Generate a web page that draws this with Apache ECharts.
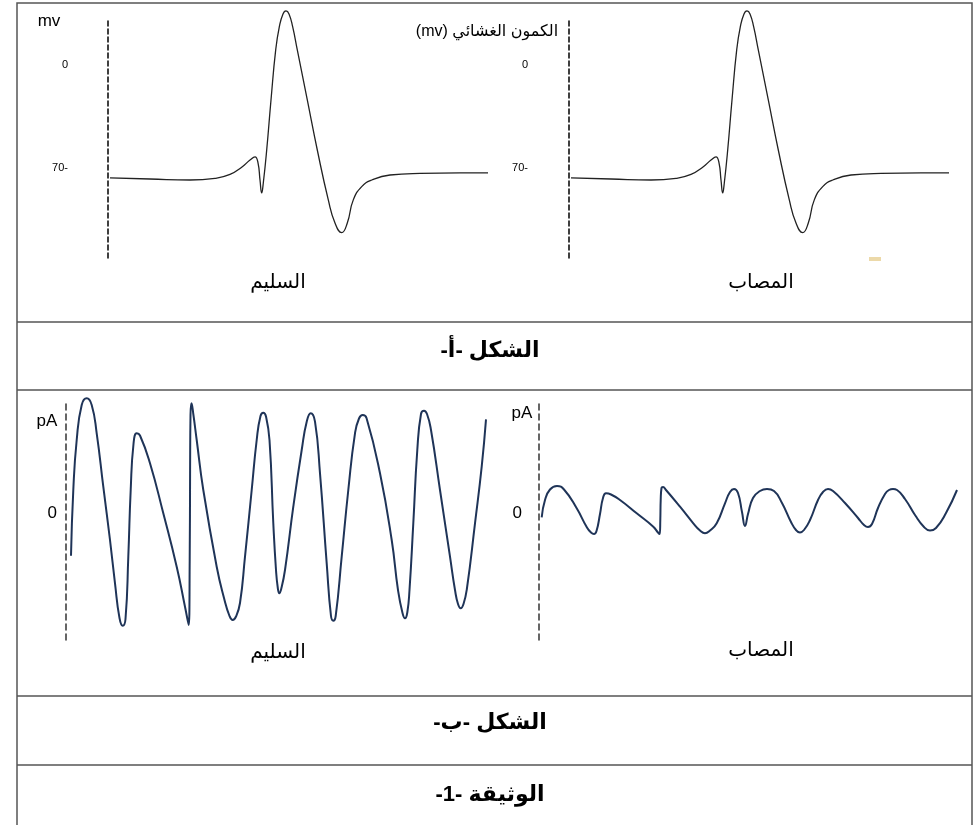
<!DOCTYPE html>
<html>
<head>
<meta charset="utf-8">
<script src="https://cdn.jsdelivr.net/npm/echarts@6/dist/echarts.min.js"></script>
<style>
html,body{margin:0;padding:0;background:#fff;}
#chart{width:980px;height:825px;direction:rtl;}
</style>
</head>
<body>
<div id="chart"></div>
<script>
// ---- Figure A: membrane potential (mV) ----
var apTime = [0.2,4.2,8.2,10.7,12.2,13.4,14.2,14.7,15.0,15.2,15.37,15.53,15.87,16.3,16.77,17.13,17.5,17.8,18.1,18.47,18.93,19.93,20.93,22.03,22.7,23.37,23.93,24.53,25.37,26.37,28.2,31.2,35.2,38.0];
var apHealthyMv = [-76.8,-77.5,-78.2,-77.1,-74.4,-69.3,-64.6,-62.5,-66.6,-78.2,-87.0,-80.2,-57.8,-23.8,10.2,25.8,34.7,36.7,34.7,25.8,10.2,-23.8,-57.8,-91.7,-107.4,-114.0,-107.4,-91.7,-82.7,-78.2,-74.8,-73.7,-73.4,-73.4];
var apInjuredMv = [-76.8,-77.5,-78.2,-77.1,-74.4,-69.3,-64.6,-62.5,-66.6,-78.2,-87.0,-80.2,-57.8,-23.8,10.2,25.8,34.7,36.7,34.7,25.8,10.2,-23.8,-57.8,-91.7,-107.4,-114.0,-107.4,-91.7,-82.7,-78.2,-74.8,-73.7,-73.4,-73.4];
var mvTicks = [0, -70];

// ---- Figure B: current (pA) ----
var curHealthyT = [0.5,0.73,1.07,1.57,2.07,2.57,3.07,3.73,4.4,4.9,
  5.35,5.67,5.95,6.23,6.47,6.75,7.07,7.4,8.4,9.73,
  11.07,11.9,12.27,12.37,12.41,12.45,12.55,12.73,13.07,13.73,
  15.07,15.8,16.35,16.67,17.0,17.4,17.9,18.57,19.07,19.45,
  19.73,20.0,20.35,20.73,21.0,21.18,21.33,21.52,21.9,22.73,
  23.57,24.07,24.47,24.9,25.4,26.07,26.5,26.73,26.97,27.57,
  28.23,28.9,29.3,29.67,30.05,31.4,32.57,33.2,33.65,33.9,
  34.13,34.35,34.73,35.13,35.5,35.8,36.1,36.5,37.4,38.4,
  38.9,39.2,39.47,39.75,40.1,40.9,41.57,42.0];
var curHealthyPa = [-4.27,2.3,7.3,10.8,11.47,10.8,7.97,2.63,-2.7,-7.03,
  -10.5,-11.27,-10.6,-4.37,2.3,6.9,7.97,7.75,4.97,-0.03,
  -5.37,-9.37,-11.2,-4.7,4.3,9.8,10.97,9.9,7.3,2.3,
  -5.37,-8.5,-10.3,-10.7,-10.35,-9.0,-4.37,2.3,7.3,9.7,
  10.03,9.65,7.3,-1.03,-5.7,-7.5,-8.03,-7.6,-5.7,0.63,
  6.3,9.13,9.97,9.13,3.97,-5.03,-10.3,-10.77,-10.3,-4.37,
  2.3,7.97,9.45,9.8,9.5,3.97,-2.7,-7.7,-10.0,-10.53,
  -9.95,-7.7,-1.03,6.3,9.9,10.23,9.9,8.3,2.3,-4.37,
  -7.7,-9.1,-9.53,-9.1,-7.5,-1.03,4.63,9.37];
var curInjuredT = [0.27,0.6,1.1,1.8,2.5,3.77,4.77,5.2,5.5,5.75,
  6.1,6.4,6.7,7.2,8.1,9.77,11.43,11.9,12.07,12.13,
  12.17,12.25,12.4,12.7,14.1,15.43,16.1,16.6,17.1,17.77,
  18.6,19.1,19.5,19.9,20.3,20.6,20.9,21.4,22.1,22.8,
  23.5,24.3,25.2,25.7,26.1,26.5,27.1,27.9,28.4,28.9,
  29.4,30.6,31.9,32.5,32.9,33.3,33.9,34.6,35.0,35.4,
  35.8,36.6,37.6,38.5,39.1,39.7,40.7,41.8];
var curInjuredPa = [-0.43,1.3,2.35,2.7,2.35,0.47,-1.4,-1.95,-2.1,-1.8,
  -0.1,1.5,1.97,1.85,1.3,-0.03,-1.37,-1.95,-2.1,-0.7,
  1.3,2.5,2.6,2.3,0.63,-1.03,-1.75,-2.03,-1.75,-1.03,
  0.97,2.1,2.4,2.0,0.1,-1.3,-0.1,1.5,2.2,2.4,
  2.2,1.0,-0.9,-1.7,-1.95,-1.7,-0.7,1.3,2.1,2.4,
  2.2,1.0,-0.5,-1.2,-1.4,-1.1,0.5,1.9,2.3,2.4,
  2.3,1.4,-0.2,-1.4,-1.75,-1.5,0,2.3];
var paTicks = [0];

// ---- texts ----
var txtHealthy = 'السليم';
var txtInjured = 'المصاب';
var txtPotential = 'الكمون الغشائي (mv)';
var txtFigA = 'الشكل -أ-';
var txtFigB = 'الشكل -ب-';
var txtDoc = 'الوثيقة -1-';

function zip(a, b) { return a.map(function (v, i) { return [v, b[i]]; }); }

var FONT = 'Liberation Sans, Arial, DejaVu Sans, sans-serif';
var chart = echarts.init(document.getElementById('chart'), null, {renderer: 'canvas'});

function yAx(gi, min, max, ticks, margin, fs, dash, col) {
  return {
    gridIndex: gi, type: 'value', min: min, max: max,
    axisLine: {show: true, onZero: false, lineStyle: {color: col, width: 1.5, type: dash}},
    axisTick: {show: false},
    splitLine: {show: false},
    axisLabel: {customValues: ticks, margin: margin, fontSize: fs, color: '#000', fontFamily: FONT}
  };
}
function xAx(gi, max) {
  return {gridIndex: gi, type: 'value', min: 0, max: max, show: false};
}
function txt(t, x, y, size, bold) {
  return {type: 'text', x: x, y: y, silent: true,
    style: {text: t, fontSize: size, fontWeight: bold ? 'bold' : 'normal', fontFamily: FONT,
      fill: '#000', align: 'center', verticalAlign: 'middle'}};
}
function hline(y) {
  return {type: 'line', silent: true, shape: {x1: 17, y1: y, x2: 972, y2: y},
    style: {stroke: '#555', lineWidth: 1.5}};
}
function curve(i, t, v, color, width) {
  return {type: 'line', xAxisIndex: i, yAxisIndex: i, data: zip(t, v), showSymbol: false,
    smooth: 0.5, clip: false, lineStyle: {color: color, width: width}};
}

var option = {
  animation: false,
  backgroundColor: '#fff',
  grid: [
    {left: 108, top: 18, width: 382, height: 240},
    {left: 569, top: 18, width: 382, height: 240},
    {left: 66, top: 400, width: 424, height: 240},
    {left: 539, top: 400, width: 421, height: 240}
  ],
  xAxis: [xAx(0, 38.2), xAx(1, 38.2), xAx(2, 42.4), xAx(3, 42.1)],
  yAxis: [
    yAx(0, -131.2, 31.9, mvTicks, 40, 11, [5, 3], '#000'),
    yAx(1, -131.2, 31.9, mvTicks, 41, 11, [5, 3], '#000'),
    yAx(2, -12.7, 11.3, paTicks, 9, 17, [6, 4], '#333'),
    yAx(3, -12.7, 11.3, paTicks, 17, 17, [6, 4], '#333')
  ],
  series: [
    curve(0, apTime, apHealthyMv, '#222', 1.3),
    curve(1, apTime, apInjuredMv, '#222', 1.3),
    curve(2, curHealthyT, curHealthyPa, '#1f3458', 2),
    curve(3, curInjuredT, curInjuredPa, '#1f3458', 2)
  ],
  graphic: [
    {type: 'rect', silent: true, shape: {x: 17, y: 3, width: 955, height: 830},
      style: {fill: 'none', stroke: '#555', lineWidth: 1.5}},
    hline(322), hline(390), hline(696), hline(765),
    {type: 'rect', silent: true, shape: {x: 869, y: 257, width: 12, height: 4}, style: {fill: '#ecd9a9'}},
    txt('mv', 49, 21, 17, false),
    txt(txtPotential, 487, 32, 16, false),
    txt(txtHealthy, 278, 282, 20, false),
    txt(txtInjured, 761, 282, 20, false),
    txt(txtFigA, 490, 351, 22, true),
    txt('pA', 47, 421, 17, false),
    txt('pA', 522, 413, 17, false),
    txt(txtHealthy, 278, 652, 20, false),
    txt(txtInjured, 761, 650, 20, false),
    txt(txtFigB, 490, 723, 22, true),
    txt(txtDoc, 490, 795, 22, true)
  ]
};
chart.setOption(option);
</script>
</body>
</html>
